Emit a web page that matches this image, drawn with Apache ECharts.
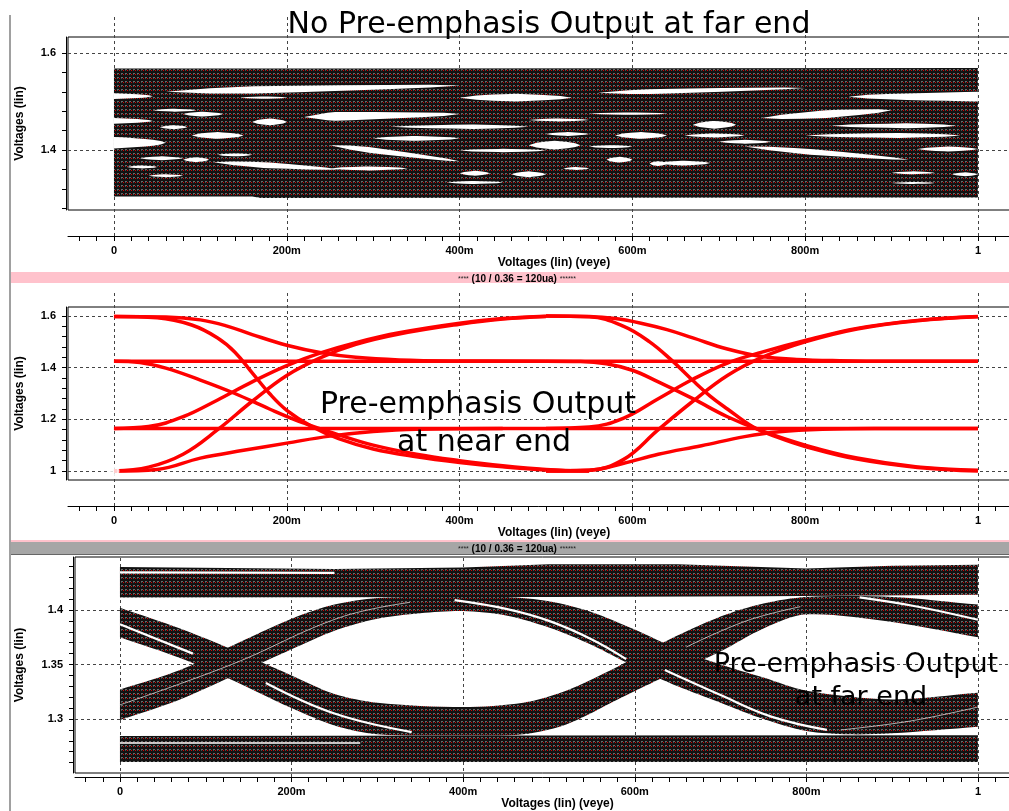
<!DOCTYPE html>
<html>
<head>
<meta charset="utf-8">
<title>Pre-emphasis eye diagrams</title>
<script src="https://cdn.jsdelivr.net/npm/echarts@6/dist/echarts.min.js"></script>
<style>
  html, body { margin: 0; padding: 0; background: #fff; }
  #chart { width: 1009px; height: 811px; }
</style>
</head>
<body>
<div id="chart"></div>
<script>
// 横轴刻度（眼图时间）
var xTickValues = [0, 0.2, 0.4, 0.6, 0.8, 1];
var xTickLabels = ['0', '200m', '400m', '600m', '800m', '1'];

// 纵轴刻度
var topYValues = [1.4, 1.6];
var topYLabels = ['1.4', '1.6'];
var nearYValues = [1, 1.2, 1.4, 1.6];
var nearYLabels = ['1', '1.2', '1.4', '1.6'];
var farYValues = [1.3, 1.35, 1.4];
var farYLabels = ['1.3', '1.35', '1.4'];

// 上图：无预加重，远端 —— 暗带上下沿
var noPeUpper = [[0, 1.568], [0.3, 1.568], [1, 1.569]];
var noPeLower = [[0, 1.304], [0.16, 1.304], [0.17, 1.301], [1, 1.302]];
// 白色缝隙 [x起, v起, x止, v止, 半宽(V), 最宽处]
var noPeGaps = [
  [0, 1.511, 0.045, 1.511, 0.006, 0],
  [0.06, 1.52, 0.4, 1.533, 0.0075, 0.3],
  [0.146, 1.508, 0.2, 1.508, 0.0025, 0.5],
  [0.045, 1.482, 0.095, 1.482, 0.003, 0.5],
  [0.08, 1.474, 0.126, 1.474, 0.005, 0.5],
  [0, 1.46, 0.045, 1.46, 0.006, 0],
  [0.053, 1.447, 0.085, 1.447, 0.004, 0.5],
  [0.09, 1.43, 0.15, 1.43, 0.007, 0.5],
  [0.16, 1.458, 0.2, 1.458, 0.007, 0.5],
  [0.22, 1.468, 0.4, 1.474, 0.009, 0.2],
  [0, 1.415, 0.06, 1.415, 0.012, 0],
  [0.03, 1.383, 0.08, 1.383, 0.004, 0.5],
  [0.08, 1.38, 0.11, 1.38, 0.005, 0.5],
  [0.12, 1.39, 0.16, 1.39, 0.003, 0.5],
  [0.115, 1.375, 0.26, 1.36, 0.006, 0.4],
  [0.015, 1.365, 0.05, 1.365, 0.003, 0.5],
  [0.04, 1.347, 0.08, 1.347, 0.003, 0.5],
  [0.4, 1.508, 0.53, 1.508, 0.008, 0.5],
  [0.55, 1.475, 0.64, 1.475, 0.0025, 0.5],
  [0.48, 1.462, 0.55, 1.462, 0.003, 0.5],
  [0.32, 1.448, 0.48, 1.448, 0.0045, 0.6],
  [0.3, 1.424, 0.4, 1.424, 0.005, 0.5],
  [0.48, 1.41, 0.54, 1.41, 0.009, 0.5],
  [0.55, 1.407, 0.6, 1.407, 0.003, 0.5],
  [0.58, 1.43, 0.64, 1.43, 0.007, 0.5],
  [0.25, 1.41, 0.4, 1.377, 0.006, 0.3],
  [0.4, 1.399, 0.5, 1.399, 0.0035, 0.5],
  [0.25, 1.362, 0.34, 1.362, 0.004, 0.5],
  [0.4, 1.352, 0.435, 1.352, 0.005, 0.5],
  [0.46, 1.35, 0.5, 1.35, 0.006, 0.5],
  [0.385, 1.333, 0.45, 1.333, 0.003, 0.5],
  [0.5, 1.433, 0.55, 1.433, 0.004, 0.5],
  [0.57, 1.38, 0.6, 1.38, 0.006, 0.5],
  [0.62, 1.372, 0.64, 1.372, 0.005, 0.5],
  [0.52, 1.362, 0.55, 1.362, 0.003, 0.5],
  [0.56, 1.518, 0.8, 1.528, 0.005, 0.25],
  [0.85, 1.51, 1, 1.51, 0.01, 1],
  [0.75, 1.466, 0.9, 1.482, 0.008, 0.5],
  [0.67, 1.452, 0.72, 1.452, 0.008, 0.5],
  [0.83, 1.45, 0.975, 1.45, 0.005, 0.6],
  [0.7, 1.417, 0.76, 1.417, 0.004, 0.5],
  [0.8, 1.43, 0.98, 1.43, 0.005, 0.6],
  [0.66, 1.43, 0.73, 1.43, 0.004, 0.5],
  [0.73, 1.407, 0.92, 1.38, 0.006, 0.4],
  [0.93, 1.402, 1, 1.402, 0.005, 0.5],
  [0.63, 1.373, 0.69, 1.373, 0.005, 0.5],
  [0.9, 1.353, 0.95, 1.353, 0.003, 0.5],
  [0.97, 1.35, 1, 1.35, 0.004, 0.5],
  [0.9, 1.332, 0.95, 1.332, 0.002, 0.5]
];

// 中图：预加重，近端 —— 各条轨迹
var nearHigh = [[0, 1.425], [1, 1.425]];
var nearLow = [[0, 1.165], [1, 1.165]];
var nearA = [[0, 1.598], [0.06, 1.596], [0.1, 1.585], [0.13, 1.562], [0.16, 1.528], [0.2, 1.487], [0.24, 1.458], [0.28, 1.44], [0.33, 1.43], [0.4, 1.426], [0.5, 1.425]];
var nearB = [[0, 1.598], [0.05, 1.593], [0.09, 1.565], [0.12, 1.515], [0.14, 1.46], [0.16, 1.38], [0.18, 1.3], [0.2, 1.235], [0.23, 1.17], [0.26, 1.125], [0.3, 1.085], [0.35, 1.055], [0.4, 1.033], [0.45, 1.016], [0.5, 1.004], [0.55, 1.0]];
var nearC = [[0, 1.425], [0.03, 1.42], [0.06, 1.398], [0.1, 1.352], [0.14, 1.3], [0.18, 1.24], [0.22, 1.185], [0.26, 1.14], [0.3, 1.1], [0.35, 1.065], [0.4, 1.04], [0.45, 1.02], [0.5, 1.006], [0.55, 1.0]];
var nearD = [[0, 1.0], [0.04, 1.015], [0.08, 1.065], [0.12, 1.16], [0.16, 1.27], [0.2, 1.37], [0.24, 1.44], [0.28, 1.49], [0.33, 1.53], [0.4, 1.568], [0.45, 1.588], [0.5, 1.598]];
var nearE = [[0, 1.165], [0.04, 1.172], [0.08, 1.21], [0.12, 1.275], [0.16, 1.345], [0.2, 1.408], [0.24, 1.458], [0.28, 1.497], [0.33, 1.535], [0.4, 1.572], [0.45, 1.59], [0.5, 1.599]];
var nearF = [[0, 1.0], [0.05, 1.006], [0.1, 1.05], [0.15, 1.08], [0.2, 1.108], [0.25, 1.135], [0.3, 1.153], [0.35, 1.162], [0.45, 1.165]];
var nearA2 = [[0.5, 1.6], [0.55, 1.598], [0.58, 1.59], [0.61, 1.572], [0.64, 1.547], [0.67, 1.515], [0.71, 1.472], [0.75, 1.443], [0.79, 1.432], [0.84, 1.427], [0.9, 1.425], [1, 1.425]];
var nearB2 = [[0.5, 1.6], [0.55, 1.597], [0.59, 1.56], [0.62, 1.5], [0.645, 1.43], [0.67, 1.35], [0.69, 1.29], [0.71, 1.24], [0.74, 1.17], [0.77, 1.128], [0.8, 1.095], [0.86, 1.046], [0.93, 1.014], [1, 1.0]];
var nearC2 = [[0.5, 1.425], [0.54, 1.424], [0.57, 1.415], [0.6, 1.39], [0.63, 1.345], [0.67, 1.28], [0.71, 1.21], [0.75, 1.155], [0.8, 1.1], [0.86, 1.05], [0.93, 1.016], [1, 1.003]];
var nearD2 = [[0.5, 1.0], [0.55, 1.003], [0.59, 1.045], [0.63, 1.16], [0.67, 1.27], [0.71, 1.37], [0.75, 1.44], [0.8, 1.5], [0.86, 1.55], [0.93, 1.582], [1, 1.597]];
var nearE2 = [[0.5, 1.165], [0.55, 1.17], [0.59, 1.205], [0.63, 1.28], [0.67, 1.355], [0.71, 1.418], [0.75, 1.46], [0.8, 1.505], [0.86, 1.552], [0.93, 1.583], [1, 1.598]];
var nearF2 = [[0.5, 1.0], [0.55, 1.003], [0.59, 1.03], [0.63, 1.065], [0.68, 1.098], [0.73, 1.133], [0.77, 1.152], [0.82, 1.162], [0.88, 1.165], [1, 1.165]];
var nearMarker = [[0, 1.0]];

// 下图：预加重，远端 —— 各条带的上下沿
var farTopUpper = [[0, 1.4395], [0.25, 1.4375], [0.4, 1.439], [0.5, 1.442], [0.65, 1.442], [0.8, 1.438], [0.9, 1.4405], [1, 1.4415]];
var farTopLower = [[0, 1.4115], [0.5, 1.412], [0.75, 1.4125], [1, 1.414]];
var farBottomUpper = [[0, 1.2845], [0.5, 1.2848], [1, 1.2852]];
var farBottomLower = [[0, 1.2605], [0.5, 1.2606], [1, 1.2605]];
var farHumpUpper = [[0, 1.327], [0.07, 1.345], [0.13, 1.367], [0.2, 1.392], [0.25, 1.405], [0.3, 1.411], [0.35, 1.412], [0.45, 1.412], [0.5, 1.408], [0.55, 1.398], [0.6, 1.382], [0.65, 1.364], [0.7, 1.35], [0.75, 1.338], [0.8, 1.326], [0.9, 1.318], [1, 1.324]];
var farHumpLower = [[0, 1.299], [0.07, 1.318], [0.13, 1.339], [0.2, 1.364], [0.25, 1.381], [0.3, 1.392], [0.35, 1.397], [0.4, 1.399], [0.45, 1.395], [0.5, 1.384], [0.55, 1.368], [0.6, 1.348], [0.65, 1.33], [0.7, 1.315], [0.75, 1.3], [0.8, 1.289], [0.85, 1.286], [0.9, 1.287], [1, 1.293]];
var farDipUpper = [[0, 1.402], [0.07, 1.383], [0.13, 1.364], [0.2, 1.34], [0.25, 1.323], [0.3, 1.315], [0.4, 1.311], [0.47, 1.315], [0.52, 1.326], [0.58, 1.348], [0.63, 1.369], [0.7, 1.394], [0.75, 1.406], [0.8, 1.412], [0.9, 1.412], [1, 1.405]];
var farDipLower = [[0, 1.375], [0.07, 1.356], [0.13, 1.336], [0.2, 1.31], [0.25, 1.294], [0.3, 1.286], [0.4, 1.285], [0.47, 1.286], [0.52, 1.295], [0.58, 1.318], [0.63, 1.337], [0.7, 1.362], [0.75, 1.383], [0.8, 1.396], [0.9, 1.389], [1, 1.375]];
// 带内白缝
var farGap1 = [[0, 1.387], [0.085, 1.36]];
var farGap2 = [[0.17, 1.333], [0.25, 1.305], [0.34, 1.288]];
var farGap3 = [[0.39, 1.409], [0.45, 1.401], [0.5, 1.39], [0.55, 1.373], [0.59, 1.355]];
var farGap4 = [[0.635, 1.345], [0.7, 1.322], [0.76, 1.302], [0.824, 1.29]];
var farGap5 = [[0.862, 1.4115], [0.93, 1.403], [1, 1.391]];
var farGap6 = [[0, 1.4345], [0.25, 1.434]];
var farGap7 = [[0, 1.278], [0.28, 1.278]];
// 带内浅色细线
var farFaint1 = [[0, 1.313], [0.13, 1.35], [0.256, 1.393], [0.338, 1.407]];
var farFaint2 = [[0.66, 1.366], [0.73, 1.39], [0.793, 1.403]];
var farFaint3 = [[0.84, 1.29], [0.92, 1.298], [1, 1.311]];

// ---------- 以下为绘图 ----------
function steps(a, b, s) {
  var out = [];
  var n = Math.round((b - a) / s);
  for (var i = 0; i <= n; i++) out.push(+(a + i * s).toFixed(4));
  return out;
}
var rulerTicks = steps(-0.04, 1.06, 0.02);
var topYTicks = steps(1.28, 1.6, 0.04);
var nearYTicks = steps(1.0, 1.6, 0.04);
var farYTicks = steps(1.26, 1.44, 0.01);

function labeler(vals, texts) {
  return function (v) {
    for (var i = 0; i < vals.length; i++) {
      if (Math.abs(v - vals[i]) < 1e-6) return texts[i];
    }
    return '';
  };
}

// 黑底红点的网格纹理
function makeMesh() {
  var c = document.createElement('canvas');
  c.width = 4; c.height = 4;
  var ctx = c.getContext('2d');
  ctx.fillStyle = '#121212'; ctx.fillRect(0, 0, 4, 4);
  ctx.fillStyle = '#6a6a6a'; ctx.fillRect(1, 1, 2, 1);
  ctx.fillStyle = '#4a4a4a'; ctx.fillRect(1, 2, 1, 1);
  ctx.fillStyle = '#d80000'; ctx.fillRect(3, 2, 1, 1);
  return c;
}
var mesh = { image: makeMesh(), repeat: 'repeat' };

var bold = { fontFamily: 'Liberation Sans', fontWeight: 'bold', color: '#000' };
var dash = { color: '#444', type: [3, 3], width: 1 };

function rulerAxis(grid, min, max) {
  return {
    type: 'value', gridIndex: grid, min: min, max: max,
    axisLine: { show: true, onZero: false, lineStyle: { color: '#000', width: 1 } },
    axisTick: { show: true, customValues: rulerTicks, length: 5, lineStyle: { color: '#000' } },
    axisLabel: Object.assign({ customValues: xTickValues, formatter: labeler(xTickValues, xTickLabels), margin: 9, fontSize: 11 }, bold),
    splitLine: { show: false },
    name: 'Voltages (lin) (veye)', nameLocation: 'middle', nameGap: 21,
    nameTextStyle: Object.assign({ fontSize: 12 }, bold)
  };
}
function hiddenX(grid, min, max) {
  return { type: 'value', gridIndex: grid, min: min, max: max, show: false };
}
function hiddenY(grid) {
  return { type: 'value', gridIndex: grid, min: 0, max: 1, show: false };
}
function voltAxis(grid, min, max, ticks, vals, texts, gap) {
  return {
    type: 'value', gridIndex: grid, min: min, max: max, offset: 2,
    axisLine: { show: true, onZero: false, lineStyle: { color: '#000' } },
    axisTick: { show: true, customValues: ticks, length: 4, lineStyle: { color: '#000' } },
    axisLabel: Object.assign({ customValues: vals, formatter: labeler(vals, texts), margin: 10, fontSize: 11 }, bold),
    splitLine: { show: false },
    name: 'Voltages (lin)', nameLocation: 'middle', nameRotate: 90, nameGap: gap,
    nameTextStyle: Object.assign({ fontSize: 12 }, bold)
  };
}

function gridLines(xi, yi, key, vals) {
  return {
    type: 'line', xAxisIndex: xi, yAxisIndex: yi, data: [], z: 1, silent: true,
    markLine: {
      z: 1, silent: true, symbol: ['none', 'none'], label: { show: false },
      lineStyle: dash, animation: false,
      data: vals.map(function (v) { var o = {}; o[key] = v; return o; })
    }
  };
}

// 两端点重复一次，平滑时端部保持直角
function edgePoints(edge, api) {
  var pts = edge.map(function (p) { return api.coord(p); });
  pts.unshift(pts[0].slice());
  pts.push(pts[pts.length - 1].slice());
  return pts;
}
function bandSeries(upper, lower, xi, yi, smooth) {
  return {
    type: 'custom', xAxisIndex: xi, yAxisIndex: yi, z: 2, silent: true,
    data: [upper[0]],
    renderItem: function (params, api) {
      var pts = edgePoints(upper, api).concat(edgePoints(lower, api).reverse());
      return { type: 'polygon', shape: { points: pts, smooth: smooth }, style: { fill: mesh } };
    }
  };
}

function gapSeries(list, xi, yi) {
  return {
    type: 'custom', xAxisIndex: xi, yAxisIndex: yi, z: 3, silent: true,
    data: list, encode: { x: 0, y: 1 },
    renderItem: function (params, api) {
      var x0 = api.value(0), v0 = api.value(1), x1 = api.value(2), v1 = api.value(3);
      var h = api.value(4), pk = api.value(5);
      var ts = [0, 0.15, 0.3, 0.45, 0.6, 0.75, 0.9, 1, pk].sort(function (a, b) { return a - b; });
      var top = [], bot = [];
      ts.forEach(function (t) {
        var f = t === pk ? 1 : (t < pk ? Math.sqrt(t / pk) : Math.sqrt((1 - t) / (1 - pk)));
        var x = x0 + (x1 - x0) * t, v = v0 + (v1 - v0) * t;
        top.push(api.coord([x, v + h * f]));
        bot.push(api.coord([x, v - h * f]));
      });
      return { type: 'polygon', shape: { points: top.concat(bot.reverse()) }, style: { fill: '#fff' } };
    }
  };
}

function trace(data, xi, yi, color, width, z) {
  return {
    type: 'line', xAxisIndex: xi, yAxisIndex: yi, data: data, z: z || 4, silent: true,
    smooth: 0.4, showSymbol: false, symbol: 'none',
    lineStyle: { color: color, width: width }
  };
}

var P1 = { min: -0.0532, max: 1.0718 };
var P3 = { min: -0.0524, max: 1.0723 };

var nearTraces = [nearHigh, nearLow, nearA, nearB, nearC, nearD, nearE, nearF,
  nearA2, nearB2, nearC2, nearD2, nearE2, nearF2];
var farGaps = [farGap1, farGap2, farGap3, farGap4, farGap5, farGap6];
var farFaints = [farFaint1, farFaint2, farFaint3];

var series = [
  gridLines(0, 0, 'xAxis', xTickValues),
  gridLines(1, 1, 'yAxis', topYValues),
  bandSeries(noPeUpper, noPeLower, 1, 1, 0),
  gapSeries(noPeGaps, 1, 1),

  gridLines(2, 2, 'xAxis', xTickValues),
  gridLines(3, 3, 'yAxis', nearYValues),

  gridLines(4, 4, 'xAxis', xTickValues),
  gridLines(5, 5, 'yAxis', farYValues),
  bandSeries(farTopUpper, farTopLower, 5, 5, 0),
  bandSeries(farBottomUpper, farBottomLower, 5, 5, 0),
  bandSeries(farHumpUpper, farHumpLower, 5, 5, 0.3),
  bandSeries(farDipUpper, farDipLower, 5, 5, 0.3)
];
nearTraces.forEach(function (d) { series.push(trace(d, 3, 3, '#ff0000', 3.5, 4)); });
series.push({
  type: 'scatter', xAxisIndex: 3, yAxisIndex: 3, data: nearMarker, z: 5, silent: true,
  symbol: 'emptyCircle', symbolSize: 9,
  itemStyle: { color: '#fff', borderColor: '#ff0000', borderWidth: 1.5 }
});
farGaps.forEach(function (d) { series.push(trace(d, 5, 5, '#ffffff', 2.2, 4)); });
series.push(trace(farGap7, 5, 5, '#ffffff', 1.5, 4));
farFaints.forEach(function (d) { series.push(trace(d, 5, 5, 'rgba(255,255,255,0.65)', 1, 4)); });

var barText = '{s|****} (10 / 0.36 = 120ua) {s|******}';
var barRich = { s: { fontSize: 7, fontFamily: 'Liberation Sans', fill: '#222' } };
var titleFont = 'DejaVu Sans';

var chart = echarts.init(document.getElementById('chart'), null, { renderer: 'canvas' });
chart.setOption({
  animation: false,
  backgroundColor: '#fff',
  grid: [
    { left: 68, top: 15, width: 972, height: 221, outerBoundsMode: 'none', show: false },
    { left: 68, top: 37, width: 972, height: 173, outerBoundsMode: 'none', show: true, borderColor: '#000', borderWidth: 1, backgroundColor: 'transparent' },
    { left: 68, top: 291, width: 972, height: 215, outerBoundsMode: 'none', show: false },
    { left: 68, top: 307, width: 972, height: 173, outerBoundsMode: 'none', show: true, borderColor: '#000', borderWidth: 1, backgroundColor: 'transparent' },
    { left: 75, top: 557, width: 965, height: 220, outerBoundsMode: 'none', show: false },
    { left: 75, top: 557, width: 965, height: 216, outerBoundsMode: 'none', show: true, borderColor: '#000', borderWidth: 1, backgroundColor: 'transparent' }
  ],
  xAxis: [
    rulerAxis(0, P1.min, P1.max), hiddenX(1, P1.min, P1.max),
    rulerAxis(2, P1.min, P1.max), hiddenX(3, P1.min, P1.max),
    rulerAxis(4, P3.min, P3.max), hiddenX(5, P3.min, P3.max)
  ],
  yAxis: [
    hiddenY(0), voltAxis(1, 1.2763, 1.633, topYTicks, topYValues, topYLabels, 40),
    hiddenY(2), voltAxis(3, 0.9652, 1.6348, nearYTicks, nearYValues, nearYLabels, 40),
    hiddenY(4), voltAxis(5, 1.2505, 1.4486, farYTicks, farYValues, farYLabels, 47)
  ],
  series: series,
  graphic: [
    { type: 'rect', shape: { x: 9, y: 15, width: 2, height: 796 }, style: { fill: '#a0a0a0' }, silent: true },
    { type: 'rect', shape: { x: 11, y: 272, width: 998, height: 11 }, style: { fill: '#ffc2cc' }, silent: true },
    { type: 'text', x: 517, y: 279, silent: true, style: { text: barText, rich: barRich, fill: '#000', font: 'bold 10px "Liberation Sans"', align: 'center', verticalAlign: 'middle' } },
    { type: 'rect', shape: { x: 11, y: 540, width: 998, height: 2 }, style: { fill: '#ffc2cc' }, silent: true },
    { type: 'rect', shape: { x: 11, y: 542, width: 998, height: 12 }, style: { fill: '#a6a6a6' }, silent: true },
    { type: 'rect', shape: { x: 11, y: 554, width: 998, height: 1 }, style: { fill: '#666' }, silent: true },
    { type: 'text', x: 517, y: 549, silent: true, style: { text: barText, rich: barRich, fill: '#000', font: 'bold 10px "Liberation Sans"', align: 'center', verticalAlign: 'middle' } },
    { type: 'text', x: 549, y: 25, z: 100, silent: true, style: { text: 'No Pre-emphasis Output at far end', fill: '#000', font: '30px "' + titleFont + '"', align: 'center', verticalAlign: 'middle' } },
    { type: 'text', x: 478, y: 405, z: 100, silent: true, style: { text: 'Pre-emphasis Output', fill: '#000', font: '30px "' + titleFont + '"', align: 'center', verticalAlign: 'middle' } },
    { type: 'text', x: 484, y: 443, z: 100, silent: true, style: { text: 'at near end', fill: '#000', font: '30px "' + titleFont + '"', align: 'center', verticalAlign: 'middle' } },
    { type: 'text', x: 856, y: 665, z: 100, silent: true, style: { text: 'Pre-emphasis Output', fill: '#000', font: '27px "' + titleFont + '"', align: 'center', verticalAlign: 'middle' } },
    { type: 'text', x: 861, y: 698, z: 100, silent: true, style: { text: 'at far end', fill: '#000', font: '27px "' + titleFont + '"', align: 'center', verticalAlign: 'middle' } }
  ]
});
</script>
</body>
</html>
